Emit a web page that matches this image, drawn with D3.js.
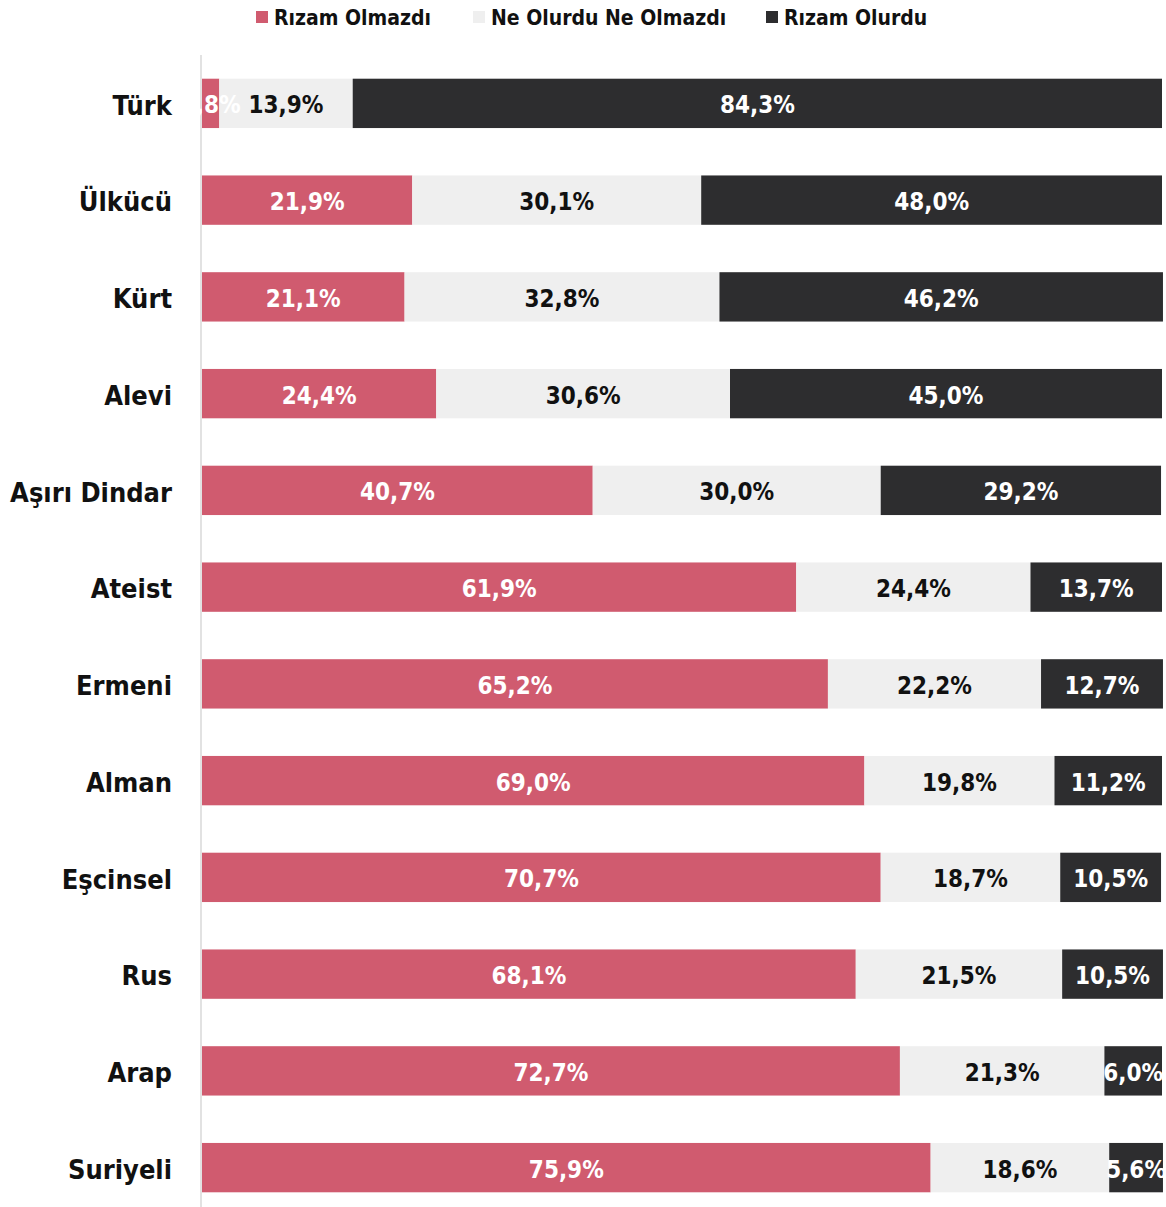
<!DOCTYPE html>
<html>
<head>
<meta charset="utf-8">
<script src="https://cdn.jsdelivr.net/npm/d3@7"></script>
<style>
  body { margin: 0; background: #fff; }
  svg text { font-family: "DejaVu Sans", sans-serif; font-stretch: condensed; font-weight: bold; }
</style>
</head>
<body>
<svg id="chart" width="1166" height="1207"></svg>
<script>
// data
var categories = ["Türk", "Ülkücü", "Kürt", "Alevi", "Aşırı Dindar", "Ateist", "Ermeni", "Alman", "Eşcinsel", "Rus", "Arap", "Suriyeli"];
var seriesNames = ["Rızam Olmazdı", "Ne Olurdu Ne Olmazdı", "Rızam Olurdu"];
var rizamOlmazdi = [1.8, 21.9, 21.1, 24.4, 40.7, 61.9, 65.2, 69.0, 70.7, 68.1, 72.7, 75.9];
var neOlurduNeOlmazdi = [13.9, 30.1, 32.8, 30.6, 30.0, 24.4, 22.2, 19.8, 18.7, 21.5, 21.3, 18.6];
var rizamOlurdu = [84.3, 48.0, 46.2, 45.0, 29.2, 13.7, 12.7, 11.2, 10.5, 10.5, 6.0, 5.6];

var colors = ["#d05b6f", "#efefef", "#2d2d2f"];
var textColors = ["#ffffff", "#111111", "#ffffff"];

var svg = d3.select("#chart");

var x = d3.scaleLinear()
	.domain([0, 100])
	.range([202, 1162]);

var y = d3.scaleBand()
	.domain(categories)
	.range([55, 1216])
	.paddingInner(0.49)
	.paddingOuter(0.245);

// build rows for stacking
var rows = categories.map(function(c, i) {
	return { cat: c, s0: rizamOlmazdi[i], s1: neOlurduNeOlmazdi[i], s2: rizamOlurdu[i] };
});
var stack = d3.stack().keys(["s0", "s1", "s2"]);
var layers = stack(rows);

var fmt = function(v) { return v.toFixed(1).replace(".", ",") + "%"; };

// vertical axis line
svg.append("line")
	.attr("x1", x(0) - 1).attr("x2", x(0) - 1)
	.attr("y1", 55).attr("y2", 1207)
	.attr("stroke", "#e2e2e2")
	.attr("stroke-width", 2);

layers.forEach(function(layer, li) {
	svg.append("g").selectAll("rect")
		.data(layer)
		.enter()
		.append("rect")
		.attr("x", function(d) { return x(d[0]); })
		.attr("y", function(d) { return y(d.data.cat); })
		.attr("width", function(d) { return x(d[1]) - x(d[0]); })
		.attr("height", y.bandwidth())
		.attr("fill", colors[li]);
});

// value labels
layers.forEach(function(layer, li) {
	svg.append("g").selectAll("text")
		.data(layer)
		.enter()
		.append("text")
		.attr("x", function(d) { return (x(d[0]) + x(d[1])) / 2; })
		.attr("y", function(d) { return y(d.data.cat) + y.bandwidth() / 2; })
		.attr("dy", "0.42em")
		.attr("text-anchor", "middle")
		.attr("font-size", 24)
		.attr("fill", textColors[li])
		.text(function(d) { return fmt(d[1] - d[0]); });
});

// category labels
svg.append("g").selectAll("text")
	.data(categories)
	.enter()
	.append("text")
	.attr("x", 172)
	.attr("y", function(d) { return y(d) + y.bandwidth() / 2; })
	.attr("dy", "0.42em")
	.attr("text-anchor", "end")
	.attr("font-size", 27)
	.attr("fill", "#111")
	.text(function(d) { return d; });

// legend
var legendX = [256, 473, 766];
var legend = svg.append("g").selectAll("g")
	.data(seriesNames)
	.enter()
	.append("g")
	.attr("transform", function(d, i) { return "translate(" + legendX[i] + ",11)"; });

legend.append("rect")
	.attr("width", 12).attr("height", 12)
	.attr("fill", function(d, i) { return colors[i]; });

legend.append("text")
	.attr("x", 18)
	.attr("y", 6)
	.attr("dy", "0.38em")
	.attr("font-size", 21)
	.attr("fill", "#111")
	.text(function(d) { return d; });
</script>
</body>
</html>
